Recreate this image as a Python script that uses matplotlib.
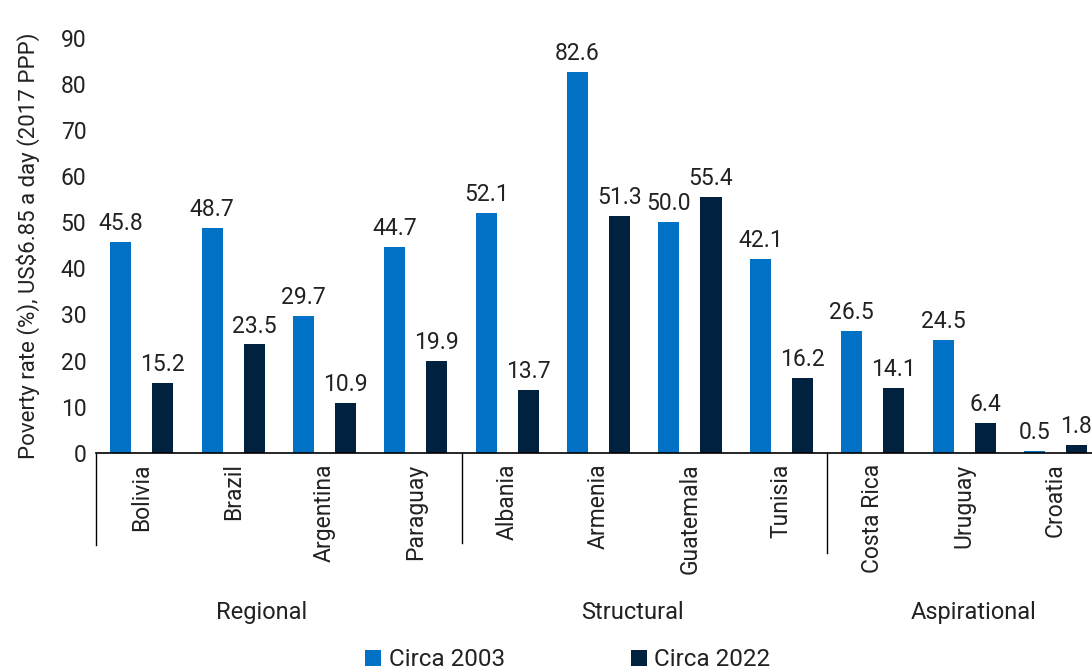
import numpy as np
import matplotlib.pyplot as plt

plt.rcParams['font.family'] = ['Roboto', 'DejaVu Sans']

countries = ['Bolivia', 'Brazil', 'Argentina', 'Paraguay', 'Albania', 'Armenia',
             'Guatemala', 'Tunisia', 'Costa Rica', 'Uruguay', 'Croatia']
circa_2003 = [45.8, 48.7, 29.7, 44.7, 52.1, 82.6, 50.0, 42.1, 26.5, 24.5, 0.5]
circa_2022 = [15.2, 23.5, 10.9, 19.9, 13.7, 51.3, 55.4, 16.2, 14.1, 6.4, 1.8]
groups = ['Regional', 'Structural', 'Aspirational']
group_sizes = [4, 4, 3]

blue = '#0071c5'
navy = '#00223f'
txt = '#222222'

fig = plt.figure(figsize=(10.92, 6.72), dpi=100)
ax = fig.add_axes([0.088, 0.326, 0.912, 0.618])

x = np.arange(len(countries))
w = 0.23
b1 = ax.bar(x - w, circa_2003, w, color=blue, label='Circa 2003')
b2 = ax.bar(x + w, circa_2022, w, color=navy, label='Circa 2022')

for bars in (b1, b2):
    for r in bars:
        ax.annotate(f'{r.get_height():.1f}', (r.get_x() + r.get_width() / 2, r.get_height()),
                    xytext=(0, 5), textcoords='offset points', ha='center', va='bottom',
                    fontsize=16.5, color=txt)

ax.set_xlim(-0.5, 10.4)
ax.set_ylim(0, 90)
ax.set_yticks(range(0, 91, 10))
ax.tick_params(axis='y', length=0, labelsize=16.5, labelcolor=txt, pad=7)
ax.set_ylabel('Poverty rate (%), US$6.85 a day (2017 PPP)', fontsize=16, color=txt, labelpad=15)
for s in ('top', 'right', 'left'):
    ax.spines[s].set_visible(False)
ax.spines['bottom'].set_linewidth(1.2)
ax.spines['bottom'].set_color('black')

# country names and group brackets below the axis
ax.set_xticks([])
tr = ax.get_xaxis_transform()
for i, c in enumerate(countries):
    ax.text(i, -0.025, c, rotation=90, ha='center', va='top', fontsize=16.5,
            color=txt, transform=tr)

edges = np.concatenate([[0], np.cumsum(group_sizes)]) - 0.5
line_ends = [-0.222, -0.217, -0.241]
for e, yend in zip(edges[:-1], line_ends):
    ax.plot([e, e], [0, yend], color='black', lw=1, transform=tr, clip_on=False)

group_x = [1.31, 5.37, 9.1]
for gx, g in zip(group_x, groups):
    ax.text(gx, -0.385, g, ha='center', va='center', fontsize=17, color=txt, transform=tr)

fig.legend(handles=[b1, b2], loc='center', bbox_to_anchor=(0.52, 0.018), ncol=2,
           frameon=False, fontsize=17.5, handlelength=0.65, handleheight=0.65,
           handletextpad=0.3, columnspacing=5.2, labelcolor=txt)

fig.savefig('out.png', dpi=100)
